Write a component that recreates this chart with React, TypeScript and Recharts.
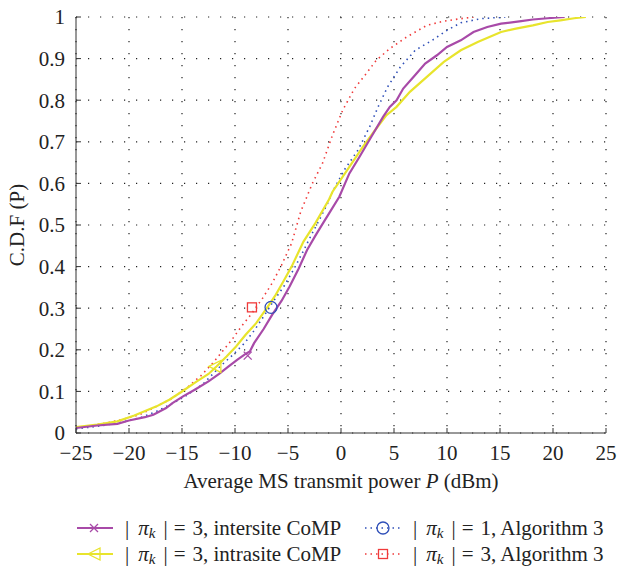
import { ComposedChart, Line, Scatter, XAxis, YAxis, CartesianGrid, Label } from "recharts"

// |pi_k| = 3, intersite CoMP
const interX = [-25, -23, -21.1, -20, -18.5, -17.7, -16.5, -15.9, -14.9, -13.8, -12.5, -11.5, -10.6, -9.8, -9.0, -8.6, -8.2, -7.3, -6.5, -5.6, -4.85, -4, -3.2, -2.4, -1.68, -1.27, -0.16, 0.79, 1.75, 2.86, 3.97, 4.6, 5.24, 5.87, 6.98, 7.94, 9.05, 10, 11.3, 12.5, 13.8, 15.1, 17, 18.1, 19.5, 21.1]
const interY = [0.012, 0.018, 0.022, 0.03, 0.038, 0.044, 0.06, 0.072, 0.088, 0.104, 0.124, 0.142, 0.16, 0.176, 0.19, 0.196, 0.216, 0.25, 0.284, 0.318, 0.352, 0.395, 0.44, 0.475, 0.505, 0.522, 0.568, 0.624, 0.664, 0.712, 0.76, 0.784, 0.8, 0.828, 0.86, 0.888, 0.908, 0.928, 0.944, 0.964, 0.976, 0.984, 0.99, 0.994, 0.997, 1.0]

// |pi_k| = 3, intrasite CoMP
const intraX = [-25, -23, -21.1, -19.5, -17.4, -16.2, -15.1, -13.6, -12.5, -11.75, -10.8, -9.9, -9, -8.0, -7, -6.16, -5.4, -4.66, -3.54, -2.4, -1.12, -0.8, 0.79, 2.06, 3.33, 4.29, 5.24, 6.5, 8.1, 9.7, 11.3, 12.9, 15.1, 16.5, 18.1, 19.5, 20.7, 22, 23.1]
const intraY = [0.014, 0.02, 0.028, 0.042, 0.064, 0.08, 0.098, 0.124, 0.142, 0.16, 0.184, 0.208, 0.236, 0.264, 0.3, 0.332, 0.366, 0.4, 0.46, 0.505, 0.562, 0.58, 0.64, 0.688, 0.732, 0.764, 0.784, 0.82, 0.856, 0.892, 0.92, 0.94, 0.964, 0.972, 0.98, 0.988, 0.992, 0.997, 1.0]

// |pi_k| = 1, Algorithm 3
const alg1X = [-25, -23, -21, -19, -17.4, -16, -14.7, -13, -11.4, -10.2, -9.1, -8.2, -7.3, -6.4, -5.4, -4.4, -3.5, -2.8, -2.05, -1.3, -0.8, 0.3, 1.6, 2.7, 3.5, 4.4, 5.6, 7, 8.6, 10, 11.3, 13.2, 15.5]
const alg1Y = [0.01, 0.016, 0.024, 0.036, 0.052, 0.07, 0.088, 0.118, 0.16, 0.188, 0.216, 0.246, 0.28, 0.316, 0.352, 0.396, 0.44, 0.476, 0.512, 0.55, 0.58, 0.632, 0.68, 0.736, 0.784, 0.832, 0.88, 0.92, 0.944, 0.968, 0.986, 0.996, 1.0]

// |pi_k| = 3, Algorithm 3
const alg3X = [-25, -23, -21, -19, -17.4, -16, -14.4, -13.2, -12.1, -11.2, -10.3, -9.4, -8.4, -7.4, -6.5, -5.6, -4.66, -3.8, -2.7, -1.75, -0.8, 0.16, 1.27, 2.38, 3.33, 4.6, 6.2, 8.1, 9.7, 11.3, 12.5]
const alg3Y = [0.012, 0.02, 0.03, 0.044, 0.064, 0.082, 0.112, 0.138, 0.168, 0.196, 0.224, 0.256, 0.288, 0.324, 0.36, 0.404, 0.456, 0.532, 0.6, 0.648, 0.716, 0.776, 0.828, 0.864, 0.896, 0.924, 0.952, 0.98, 0.99, 0.996, 1.0]

// single marker per curve
const interMark = [{ x: -8.8, y: 0.186 }]
const intraMark = [{ x: -11.9, y: 0.16 }]
const alg1Mark = [{ x: -6.6, y: 0.302 }]
const alg3Mark = [{ x: -8.4, y: 0.302 }]

const xTicks = [-25, -20, -15, -10, -5, 0, 5, 10, 15, 20, 25]
const yTicks = [0, 0.1, 0.2, 0.3, 0.4, 0.5, 0.6, 0.7, 0.8, 0.9, 1]

const MAGENTA = "#a84aa8"
const YELLOW = "#e8e42c"
const BLUE = "#2f4fb8"
const RED = "#f03a3a"
const AXIS = "#333"
const TEXT = "#222"
const FONT = '"Liberation Serif", "Times New Roman", serif'
const FS = 21

const toPoints = (xs: number[], ys: number[]) => xs.map((x, i) => ({ x, y: ys[i] }))

const fmtX = (v: number) => (v < 0 ? `\u2212${Math.abs(v)}` : String(v))

function CrossMark({ cx, cy, color }: any) {
  const s = 4
  return (
    <g stroke={color} strokeWidth={1.3}>
      <line x1={cx - s} y1={cy - s} x2={cx + s} y2={cy + s} />
      <line x1={cx - s} y1={cy + s} x2={cx + s} y2={cy - s} />
    </g>
  )
}

function TriMark({ cx, cy, color }: any) {
  const s = 6
  return (
    <polygon
      points={`${cx - s},${cy} ${cx + s},${cy - s} ${cx + s},${cy + s}`}
      fill="none"
      stroke={color}
      strokeWidth={1.3}
    />
  )
}

function CircleMark({ cx, cy, color }: any) {
  return <circle cx={cx} cy={cy} r={6} fill="none" stroke={color} strokeWidth={1.3} />
}

function SquareMark({ cx, cy, color }: any) {
  const s = 4.5
  return <rect x={cx - s} y={cy - s} width={2 * s} height={2 * s} fill="none" stroke={color} strokeWidth={1.3} />
}

function LegendSample({ color, dashed, children }: any) {
  return (
    <svg width={36} height={20} style={{ display: "block" }}>
      <line
        x1={0}
        y1={10}
        x2={36}
        y2={10}
        stroke={color}
        strokeWidth={dashed ? 1.5 : 1.8}
        strokeDasharray={dashed ? "1.5 4" : undefined}
      />
      {children}
    </svg>
  )
}

function PiText({ n, text }: { n: number; text: string }) {
  return (
    <span style={{ whiteSpace: "pre", display: "inline-flex", alignItems: "baseline" }}>
      <span>|</span>
      <i style={{ marginLeft: 9 }}>
        π<sub style={{ fontSize: "0.72em", verticalAlign: "-0.22em", lineHeight: 0 }}>k</sub>
      </i>
      <span style={{ marginLeft: 8 }}>|</span>
      <span style={{ marginLeft: 6 }}>=</span>
      <span style={{ marginLeft: 7 }}>{`${n}, ${text}`}</span>
    </span>
  )
}

const legendItems = [
  { left: 77, top: 516, color: MAGENTA, dashed: false, n: 3, text: "intersite CoMP", mark: <CrossMark cx={17} cy={10} color={MAGENTA} /> },
  { left: 77, top: 542, color: YELLOW, dashed: false, n: 3, text: "intrasite CoMP", mark: <TriMark cx={17} cy={10} color={YELLOW} /> },
  { left: 365, top: 516, color: BLUE, dashed: true, n: 1, text: "Algorithm 3", mark: <CircleMark cx={18} cy={10} color={BLUE} /> },
  { left: 365, top: 542, color: RED, dashed: true, n: 3, text: "Algorithm 3", mark: <SquareMark cx={18} cy={10} color={RED} /> },
]

export default function App() {
  const tickStyle = { fontSize: FS, fill: TEXT, fontFamily: FONT }

  return (
    <div style={{ position: "absolute", left: 0, top: 0, width: 619, height: 569, background: "#fff", fontFamily: FONT }}>
      <ComposedChart width={619} height={569} margin={{ top: 17, right: 13, bottom: 86, left: 0 }}>
        <CartesianGrid stroke={TEXT} strokeWidth={1.2} strokeDasharray="1.2 10.8" horizontalValues={yTicks} verticalValues={xTicks} />
        <XAxis
          dataKey="x"
          type="number"
          domain={[-25, 25]}
          ticks={xTicks}
          allowDataOverflow
          height={50}
          tickSize={-5}
          tickMargin={17}
          tickFormatter={fmtX}
          tick={tickStyle}
          axisLine={{ stroke: AXIS }}
          tickLine={{ stroke: AXIS }}
        >
          <Label
            content={({ viewBox }: any) => (
              <text
                x={viewBox.x + viewBox.width / 2}
                y={viewBox.y + 55}
                textAnchor="middle"
                fontSize={FS}
                fontFamily={FONT}
                fill={TEXT}
              >
                Average MS transmit power <tspan fontStyle="italic">P</tspan> (dBm)
              </text>
            )}
          />
        </XAxis>
        <XAxis
          xAxisId="top"
          orientation="top"
          dataKey="x"
          type="number"
          domain={[-25, 25]}
          ticks={xTicks}
          height={0}
          tick={false}
          tickSize={-5}
          axisLine={{ stroke: AXIS }}
          tickLine={{ stroke: AXIS }}
        />
        <YAxis
          dataKey="y"
          type="number"
          domain={[0, 1]}
          ticks={yTicks}
          allowDataOverflow
          width={76}
          tickSize={-5}
          tickMargin={16}
          tick={tickStyle}
          axisLine={{ stroke: AXIS }}
          tickLine={{ stroke: AXIS }}
        >
          <Label
            content={({ viewBox }: any) => {
              const cx = 17
              const cy = viewBox.y + viewBox.height / 2
              return (
                <text
                  x={cx}
                  y={cy}
                  transform={`rotate(-90 ${cx} ${cy})`}
                  textAnchor="middle"
                  dominantBaseline="central"
                  fontSize={FS}
                  fontFamily={FONT}
                  fill={TEXT}
                >
                  C.D.F (P)
                </text>
              )
            }}
          />
        </YAxis>
        <YAxis
          yAxisId="right"
          orientation="right"
          type="number"
          domain={[0, 1]}
          ticks={yTicks}
          width={0}
          tick={false}
          tickSize={-5}
          axisLine={{ stroke: AXIS }}
          tickLine={{ stroke: AXIS }}
        />

        <Line data={toPoints(alg3X, alg3Y)} dataKey="y" type="linear" stroke={RED} strokeWidth={1.6} strokeDasharray="1.5 4" dot={false} isAnimationActive={false} />
        <Line data={toPoints(alg1X, alg1Y)} dataKey="y" type="linear" stroke={BLUE} strokeWidth={1.6} strokeDasharray="1.5 4" dot={false} isAnimationActive={false} />
        <Line data={toPoints(intraX, intraY)} dataKey="y" type="linear" stroke={YELLOW} strokeWidth={2.2} dot={false} isAnimationActive={false} />
        <Line data={toPoints(interX, interY)} dataKey="y" type="linear" stroke={MAGENTA} strokeWidth={2.2} dot={false} isAnimationActive={false} />

        <Scatter data={interMark} dataKey="y" isAnimationActive={false} shape={(p: any) => <CrossMark cx={p.cx} cy={p.cy} color={MAGENTA} />} />
        <Scatter data={intraMark} dataKey="y" isAnimationActive={false} shape={(p: any) => <TriMark cx={p.cx} cy={p.cy} color={YELLOW} />} />
        <Scatter data={alg1Mark} dataKey="y" isAnimationActive={false} shape={(p: any) => <CircleMark cx={p.cx} cy={p.cy} color={BLUE} />} />
        <Scatter data={alg3Mark} dataKey="y" isAnimationActive={false} shape={(p: any) => <SquareMark cx={p.cx} cy={p.cy} color={RED} />} />
      </ComposedChart>

      {legendItems.map((it, i) => (
        <div
          key={i}
          style={{ position: "absolute", left: it.left, top: it.top, height: 24, display: "flex", alignItems: "center", gap: 12, fontSize: FS, color: TEXT, lineHeight: "24px" }}
        >
          <LegendSample color={it.color} dashed={it.dashed}>
            {it.mark}
          </LegendSample>
          <PiText n={it.n} text={it.text} />
        </div>
      ))}
    </div>
  )
}
